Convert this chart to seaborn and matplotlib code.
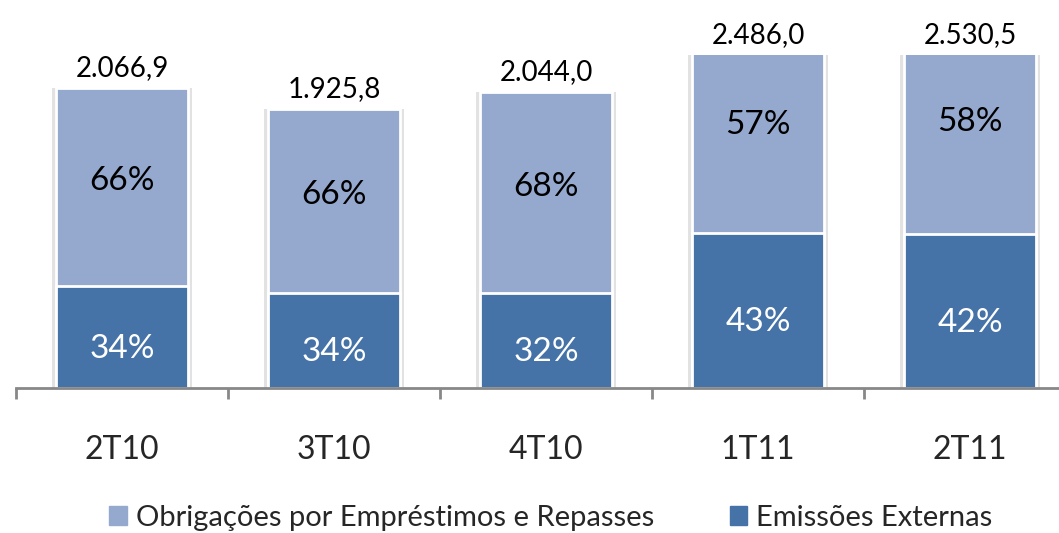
import matplotlib
matplotlib.use("Agg")
import matplotlib.pyplot as plt
import numpy as np
import pandas as pd
import seaborn as sns
from matplotlib.patches import Patch

periods = ["2T10", "3T10", "4T10", "1T11", "2T11"]
totals = [2066.9, 1925.8, 2044.0, 2486.0, 2530.5]
pct_emissoes = [34, 34, 32, 43, 42]
pct_obrigacoes = [66, 66, 68, 57, 58]
total_labels = ["2.066,9", "1.925,8", "2.044,0", "2.486,0", "2.530,5"]

LIGHT = "#95a9cf"
DARK = "#4572a7"
Y_MAX = 2297

sns.set_theme(style="white")
plt.rcParams["font.family"] = ["Lato", "DejaVu Sans"]

df = pd.DataFrame({
    "periodo": periods,
    "total": totals,
    "emissoes": [t * p / 100 for t, p in zip(totals, pct_emissoes)],
})

fig = plt.figure(figsize=(10.59, 5.33), dpi=100)
ax = fig.add_axes([16 / 1059, 145 / 533, 1060 / 1059, 333 / 533])

# faint shadow behind each column
sns.barplot(data=df, x="periodo", y="total", color="#e2e2e2", width=0.66,
            linewidth=0, saturation=1, ax=ax)
# total bar (light) then lower segment (dark) on top of it
sns.barplot(data=df, x="periodo", y="total", color=LIGHT, width=0.62,
            edgecolor="white", linewidth=2, saturation=1, ax=ax)
sns.barplot(data=df, x="periodo", y="emissoes", color=DARK, width=0.62,
            edgecolor="white", linewidth=2, saturation=1, ax=ax)

ax.set_xlim(-0.5, len(periods) - 0.5)
ax.set_ylim(0, Y_MAX)

for i, (t, e) in enumerate(zip(totals, df["emissoes"])):
    top = min(t, Y_MAX)
    ax.text(i, e / 2 - 80, f"{pct_emissoes[i]}%", ha="center", va="center",
            color="white", fontsize=24)
    ax.text(i, e + (t - e) / 2 + 40, f"{pct_obrigacoes[i]}%", ha="center",
            va="center", color="black", fontsize=24)
    ax.annotate(total_labels[i], (i, top), xytext=(0, 5),
                textcoords="offset points", ha="center", va="bottom",
                fontsize=20, color="black", annotation_clip=False)

for s in ["top", "right", "left"]:
    ax.spines[s].set_visible(False)
ax.spines["bottom"].set_color("#888888")
ax.spines["bottom"].set_linewidth(2)

ax.set_yticks([])
ax.set_xticks(np.arange(len(periods)))
ax.set_xticklabels(periods, fontsize=23)
ax.tick_params(axis="x", which="major", bottom=False, length=0, pad=34)
# small separators between categories
ax.set_xticks(np.arange(len(periods) + 1) - 0.5, minor=True)
ax.tick_params(axis="x", which="minor", bottom=True, length=8, width=2,
               color="#888888", direction="out")
ax.set_xlabel("")
ax.set_ylabel("")

handles = [Patch(color=LIGHT, label="Obrigações por Empréstimos e Repasses"),
           Patch(color=DARK, label="Emissões Externas")]
fig.legend(handles=handles, loc="lower center", bbox_to_anchor=(0.52, -0.045),
           ncol=2, frameon=False, fontsize=21, handlelength=0.6,
           handleheight=0.6, handletextpad=0.3, columnspacing=2.6)

fig.savefig("out.png", dpi=100)
